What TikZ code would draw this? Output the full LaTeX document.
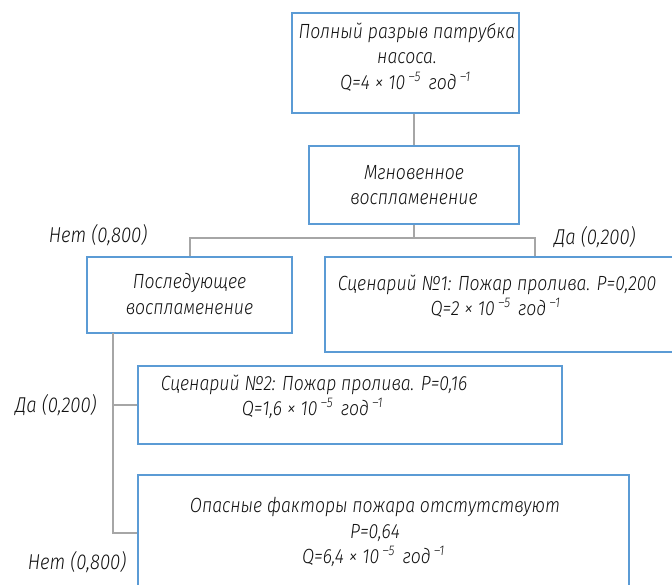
\documentclass[tikz,border=0pt]{standalone}
\usepackage{fontspec}
\setmainfont{Fira Sans}[UprightFont=* Light, ItalicFont=* Light Italic, FakeStretch=0.86]
\definecolor{boxblue}{HTML}{5B9BD5}
\definecolor{linegray}{HTML}{A6A6A6}
\definecolor{txtcol}{HTML}{111111}
\newcommand{\sps}[1]{\,\raisebox{0.75ex}{\fontsize{14}{14}\selectfont #1}\,}
\begin{document}
\begin{tikzpicture}[x=1pt,y=-1pt,
  box/.style={draw=boxblue, line width=1.1pt, fill=white, inner sep=0pt, rectangle},
  txt/.style={align=center, inner sep=0pt, text=txtcol, font=\fontsize{20.5}{25.5}\selectfont\itshape},
  lbl/.style={inner sep=0pt, text=txtcol, font=\fontsize{21.5}{25.5}\selectfont\itshape},
  conn/.style={draw=linegray, line width=1.1pt}]
\useasboundingbox (0,0) rectangle (672,584);
% boxes
\node[box, minimum width=227pt, minimum height=100pt] (top) at (405.5,63) {};
\node[box, minimum width=210pt, minimum height=78pt] (b2) at (414,185) {};
\node[box, minimum width=205pt, minimum height=76pt] (b3) at (189.5,295) {};
\node[box, minimum width=375pt, minimum height=95pt] (b4) at (512.5,304.5) {};
\node[box, minimum width=424pt, minimum height=78pt] (b5) at (350,405) {};
\node[box, minimum width=491pt, minimum height=116pt] (b6) at (383.5,533) {};
% texts
\node[txt] (t1) at (407,57) {Полный разрыв патрубка\\насоса.\\Q=4 × 10\sps{–5} год\sps{–1}};
\node[txt] (t2) at (414,185) {Мгновенное\\воспламенение};
\node[txt] (t3) at (189.5,294) {Последующее\\воспламенение};
\node[txt] (t4) at (497,296) {Сценарий №1: Пожар пролива. P=0,200\\Q=2 × 10\sps{–5} год\sps{–1}};
\node[txt] (t5) at (314,397) {Сценарий №2: Пожар пролива. P=0,16\\Q=1,6 × 10\sps{–5} год\sps{–1}};
\node[txt] (t6) at (375,532) {Опасные факторы пожара отстутствуют\\P=0,64\\Q=6,4 × 10\sps{–5} год\sps{–1}};
% labels
\node[lbl] (l1) at (98,235) {Нет (0,800)};
\node[lbl] (l2) at (595,237) {Да (0,200)};
\node[lbl] (l3) at (56,405) {Да (0,200)};
\node[lbl] (l4) at (77,562) {Нет (0,800)};
% connectors
\coordinate (jl) at (190,238);
\coordinate (jr) at (535,238);
\coordinate (vs) at (113,333);
\draw[conn] (top.south -| b2.north) -- (b2.north);
\draw[conn] (b2.south) -- (b2.south |- jl);
\draw[conn] (b3.north -| jl) -- (jl) -- (jr) -- (jr |- b4.north);
\draw[conn] (vs) -- (vs |- b6.west) -- (b6.west);
\draw[conn] (vs |- b5.west) -- (b5.west);
\end{tikzpicture}
\end{document}
